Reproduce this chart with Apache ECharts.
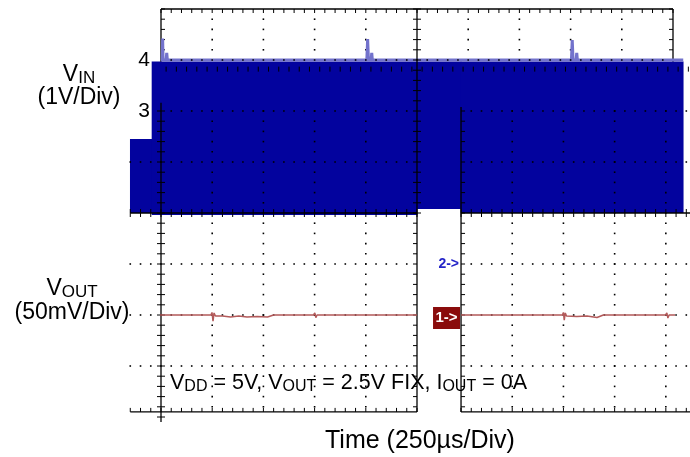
<!DOCTYPE html>
<html><head><meta charset="utf-8">
<script src="https://cdn.jsdelivr.net/npm/echarts@6/dist/echarts.min.js"></script>
<style>html,body{margin:0;padding:0;background:#fff}#c{width:690px;height:457px}</style>
</head><body><div id="c"></div>
<script>
// ---------------- data ----------------
const timePerDiv = 250;        // µs per division
const vinVoltsPerDiv = 1;      // CH2 VIN, 1V/Div
const voutMvPerDiv = 50;       // CH1 VOUT, 50mV/Div
const vinGroundDiv = 3;        // CH2 ground marker level (div from bottom)
const voutRefDiv = 2;          // CH1 reference marker level
const vinTickLabels = [3, 4];  // volts shown at left

// dense VIN switching band: start/end time (µs), upper/lower volts
const vinBandStart = [-150, -44, 1250, 1465];
const vinBandEnd   = [-44, 1250, 1465, 2550];
const vinBandHigh  = [2.45, 3.97, 3.97, 3.97];
const vinBandLow   = [1.00, 0.96, 1.08, 1.00];

// VIN upper envelope with spikes
const vinEnvTime = [0, 6, 8, 10, 25, 28, 31, 1005, 1009, 1013, 1026, 1029, 1032, 2004, 2008, 2012, 2027, 2030, 2033, 2550];
const vinEnvVolt = [4.0, 4.0, 4.42, 4.0, 4.0, 4.14, 4.0, 4.0, 4.41, 4.0, 4.0, 4.14, 4.0, 4.0, 4.39, 4.0, 4.0, 4.14, 4.0, 4.0];

// VOUT deviation (mV); null = trace not visible
const voutTime = [-137, 244, 249, 254, 259, 266, 300, 340, 380, 420, 470, 520, 550, 745, 751, 756, 762, 1250, 1300, 1465, 1960, 1965, 1969, 1974, 1980, 2030, 2080, 2129, 2135, 2160, 2464, 2470, 2475, 2481, 2550];
const voutMv   = [0, 0, 2.5, -6, 2, -1, -1, -2, -1, -2, -1.5, -2, 0, 0, 2, -2.5, 0, 0, null, 0, 0, 2.5, -5, 2, -1, -1.5, -1, -2.5, -1, 0, 0, 2, -3, 0, 0];

const channelMarkerText = ['2->', '1->'];
const channelMarkerDiv  = [vinGroundDiv, voutRefDiv];

// ---------------- layout ----------------
const FONT = 'Liberation Sans, Arial, sans-serif';
const RP = 5.86;   // left edge of the lower-right screen piece, in divisions
const S = 0.2;     // minor division

function gratUnder() {
  const a = [];
  a.push({k:'line', x0:0, x1:10, y0:8, y1:8, tick:'down'});
  a.push({k:'line', x0:0, x1:0, y0:6.9, y1:8, tick:'right'});
  a.push({k:'line', x0:10, x1:10, y0:6.9, y1:8, tick:'left'});
  [1,2,3,4,6,7,8,9].forEach(x => a.push({k:'dots', x0:x, x1:x, y0:6.9, y1:7.9}));
  return a;
}
function gratOver() {
  const a = [];
  a.push({k:'dots', x0:0.2, x1:9.8, y0:7, y1:7});
  a.push({k:'line', noLine:true, x0:0.1, x1:10.3, y0:6.87, y1:6.87, tick:'down', len:5, o:0.1});
  a.push({k:'line', x0:5, x1:5, y0:4, y1:8, tick:'both'});
  a.push({k:'line', x0:5, x1:5, y0:0.1, y1:4, tick:'left'});
  // lower-left piece
  a.push({k:'line', x0:0, x1:0, y0:-0.1, y1:6.16, tick:'both'});
  [1,2,3,4].forEach(x => a.push({k:'dots', x0:x, x1:x, y0:0.2, y1:6.0}));
  a.push({k:'dots', x0:0.2, x1:4.8, y0:6, y1:6});
  [5,3,2,1].forEach(y => a.push({k:'dots', x0:-0.6, x1:4.8, y0:y, y1:y}));
  a.push({k:'line', x0:-0.6, x1:5, y0:4, y1:4, tick:'both'});
  a.push({k:'line', x0:-0.6, x1:5, y0:0.1, y1:0.1, tick:'up'});
  // lower-right piece
  a.push({k:'line', x0:RP, x1:RP, y0:0.1, y1:6.08, tick:'right'});
  [1,2,3,4].forEach(i => a.push({k:'dots', x0:RP+i, x1:RP+i, y0:0.2, y1:6.0}));
  [6,5,3,2,1].forEach(y => a.push({k:'dots', x0:RP+0.2, x1:10.3, y0:y, y1:y, o:RP}));
  a.push({k:'line', x0:RP, x1:10.4, y0:4, y1:4, tick:'both', o:RP});
  a.push({k:'line', x0:RP, x1:10.4, y0:0.1, y1:0.1, tick:'up', o:RP});
  return a;
}

function px(api, xd, yd) { return api.coord([xd * timePerDiv, yd]); }
function range(a, b, o) {
  const r = [];
  for (let k = Math.ceil((a - o) / S - 1e-6); o + k * S <= b + 1e-6; k++) r.push(o + k * S);
  return r;
}
function buildGrat(items, api, z2, ch) {
  items.forEach(it => {
    const o = it.o || 0;
    const col = '#000';
    const horiz = it.y0 === it.y1;
    if (it.k === 'dots') {
      const pts = horiz ? range(it.x0, it.x1, o).map(x => px(api, x, it.y0))
                        : range(it.y0, it.y1, 0).map(y => px(api, it.x0, y));
      pts.forEach(p => ch.push({type:'rect', z2:z2, shape:{x:p[0]-0.8, y:p[1]-0.8, width:1.6, height:1.6}, style:{fill:col}}));
    } else {
      const a = px(api, it.x0, it.y0), b = px(api, it.x1, it.y1);
      if (!it.noLine) ch.push({type:'line', z2:z2, shape:{x1:a[0], y1:a[1], x2:b[0], y2:b[1]}, style:{stroke:col, lineWidth:1.3}});
      const len = it.len || 4;
      if (it.tick) {
        if (horiz) {
          range(it.x0, it.x1, o).forEach(x => {
            const p = px(api, x, it.y0);
            const y1 = it.tick === 'down' ? p[1] : p[1] - len;
            const y2 = it.tick === 'up' ? p[1] : p[1] + len;
            ch.push({type:'line', z2:z2, shape:{x1:p[0], y1:y1, x2:p[0], y2:y2}, style:{stroke:col, lineWidth:1}});
          });
        } else {
          range(it.y0, it.y1, 0).forEach(y => {
            const p = px(api, it.x0, y);
            const x1 = it.tick === 'right' ? p[0] : p[0] - len;
            const x2 = it.tick === 'left' ? p[0] : p[0] + len;
            ch.push({type:'line', z2:z2, shape:{x1:x1, y1:p[1], x2:x2, y2:p[1]}, style:{stroke:col, lineWidth:1}});
          });
        }
      }
    }
  });
  return ch;
}

const vinDiv = v => v / vinVoltsPerDiv + vinGroundDiv;
const voutDiv = mv => mv === null ? null : mv / voutMvPerDiv + voutRefDiv;

const bandData = vinBandStart.map((t, i) => [t, vinBandEnd[i], vinDiv(vinBandHigh[i]), vinDiv(vinBandLow[i])]);
const envData = vinEnvTime.map((t, i) => [t, vinDiv(vinEnvVolt[i])]);
const voutData = voutTime.map((t, i) => [t, voutDiv(voutMv[i])]);
const markerData = channelMarkerDiv.map((d, i) => [RP * timePerDiv, d, i]);

const subRich = (mainSize, subSize, subLH, mainLH) => ({
  m: {fontSize: mainSize, lineHeight: mainLH, verticalAlign: 'bottom', fontFamily: FONT, color: '#000'},
  s: {fontSize: subSize, lineHeight: subLH, verticalAlign: 'bottom', fontFamily: FONT, color: '#000'}
});

// VIN band, its envelope and the graticule in one custom series so the stacking order is explicit
function renderScope(params, api) {
  const i = params.dataIndex;
  const n = bandData.length;
  const ch = [];
  if (i === 0) buildGrat(gratUnder(), api, 1, ch);
  const a = api.coord([api.value(0), api.value(2)]);
  const b = api.coord([api.value(1), api.value(3)]);
  ch.push({type:'rect', z2:5, shape:{x:a[0]-0.3, y:a[1], width:b[0]-a[0]+0.6, height:b[1]-a[1]}, style:{fill:'#03039e'}});
  if (i === n - 1) {
    const pts = envData.map(d => api.coord(d));
    ch.push({type:'polyline', z2:10, shape:{points:pts}, style:{stroke:'#7272cc', lineWidth:3, fill:null}});
    buildGrat(gratOver(), api, 20, ch);
  }
  return {type:'group', children:ch};
}

const chart = echarts.init(document.getElementById('c'), null, {renderer:'canvas'});
chart.setOption({
  animation: false,
  backgroundColor: '#fff',
  textStyle: {fontFamily: FONT},
  grid: {left:161, top:9, width:512, height:408, containLabel:false},
  xAxis: {type:'value', min:0, max:10*timePerDiv, show:false},
  yAxis: {type:'value', min:0, max:8, interval:1,
    axisLine:{show:false}, axisTick:{show:false}, splitLine:{show:false},
    axisLabel:{margin:11, fontSize:21, color:'#000', fontFamily:FONT, padding:[0,0,5,0],
      formatter: v => vinTickLabels.includes(v - vinGroundDiv) ? String(v - vinGroundDiv) : ''}},
  series: [
    {type:'custom', name:'VIN', z:2, silent:true, clip:false, data:bandData,
      encode:{x:[0,1], y:[2,3]}, renderItem:renderScope},
    {type:'line', name:'VOUT', z:5, silent:true, clip:false, data:voutData, showSymbol:false, symbol:'none',
      connectNulls:false, lineStyle:{color:'#b35a5a', width:1.5}},
    {type:'custom', name:'markers', z:6, silent:true, clip:false, data:markerData,
      renderItem:(p, api) => {
        const c = api.coord([api.value(0), api.value(1)]);
        const i = api.value(2);
        const txt = channelMarkerText[i];
        if (i === 1) {
          return {type:'group', children:[
            {type:'rect', shape:{x:c[0]-28, y:c[1]-8, width:27, height:22}, style:{fill:'#8a0c0c'}},
            {type:'text', z2:2, style:{text:txt, x:c[0]-14.5, y:c[1]+3, align:'center', verticalAlign:'middle',
              font:'bold 15px ' + FONT, fill:'#fff'}}]};
        }
        return {type:'text', style:{text:txt, x:c[0]-2, y:c[1], align:'right', verticalAlign:'middle',
          font:'bold 14px ' + FONT, fill:'#2424c8'}};
      }}
  ],
  graphic: [
    {type:'text', z:10, x:79, y:74, style:{text:'{m|V}{s|IN}', align:'center', verticalAlign:'middle',
      rich:subRich(23, 17, 16, 25)}},
    {type:'text', z:10, x:79, y:98, style:{text:'(1V/Div)', align:'center', verticalAlign:'middle',
      font:'23px ' + FONT, fill:'#000'}},
    {type:'text', z:10, x:72, y:288, style:{text:'{m|V}{s|OUT}', align:'center', verticalAlign:'middle',
      rich:subRich(23, 17, 16, 25)}},
    {type:'text', z:10, x:72, y:313, style:{text:'(50mV/Div)', align:'center', verticalAlign:'middle',
      font:'23px ' + FONT, fill:'#000'}},
    {type:'text', z:10, x:170, y:383, style:{text:'{m|V}{s|DD}{m| = 5V, V}{s|OUT}{m| = 2.5V FIX, I}{s|OUT}{m| = 0A}',
      align:'left', verticalAlign:'middle', rich:subRich(21.5, 16, 15, 23)}},
    {type:'text', z:10, x:325, y:441, style:{text:'Time (250\u00B5s/Div)', align:'left', verticalAlign:'middle',
      font:'25px ' + FONT, fill:'#000'}}
  ]
});
</script></body></html>
